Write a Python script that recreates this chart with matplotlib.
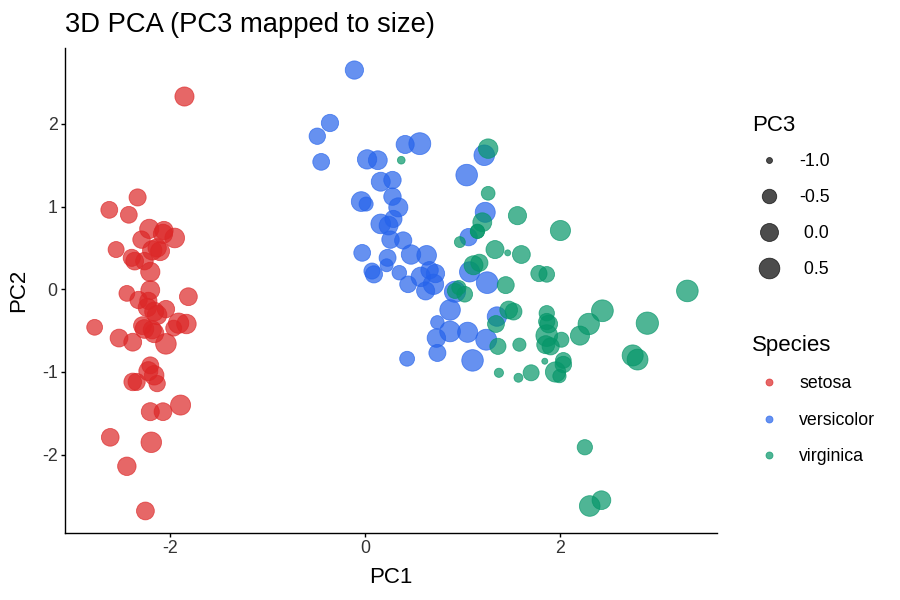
import numpy as np
import matplotlib
matplotlib.use("Agg")
import matplotlib.pyplot as plt

# punteggi PCA (iris, variabili standardizzate)
pc1 = [-2.26, -2.07, -2.36, -2.29, -2.38, -2.07, -2.44, -2.23, -2.33, -2.18,
       -2.16, -2.32, -2.21, -2.62, -2.19, -2.25, -2.20, -2.18, -1.89, -2.34,
       -1.91, -2.20, -2.77, -1.81, -2.22, -1.95, -2.04, -2.16, -2.13, -2.26,
       -2.13, -1.83, -2.61, -2.44, -2.10, -2.20, -2.04, -2.52, -2.42, -2.16,
       -2.28, -1.85, -2.55, -1.96, -2.13, -2.06, -2.38, -2.39, -2.22, -2.20,
       1.10, 0.73, 1.24, 0.41, 1.07, 0.39, 0.74, -0.49, 0.92, 0.01,
       -0.11, 0.44, 0.56, 0.72, -0.03, 0.87, 0.35, 0.16, 1.22, 0.16,
       0.74, 0.47, 1.23, 0.63, 0.70, 0.87, 1.25, 1.35, 0.66, -0.04,
       0.13, 0.02, 0.24, 1.06, 0.22, 0.43, 1.05, 1.04, 0.07, 0.28,
       0.28, 0.62, 0.34, -0.36, 0.29, 0.09, 0.23, 0.57, -0.45, 0.26,
       1.84, 1.15, 2.20, 1.44, 1.86, 2.74, 0.37, 2.29, 2.00, 2.25,
       1.36, 1.60, 1.88, 1.26, 1.46, 1.58, 1.47, 2.42, 3.30, 1.26,
       2.03, 0.97, 2.89, 1.33, 1.70, 1.95, 1.17, 1.02, 1.78, 1.86,
       2.43, 2.30, 1.86, 1.11, 1.20, 2.79, 1.57, 1.34, 0.92, 1.85,
       2.01, 1.90, 1.15, 2.03, 1.99, 1.86, 1.56, 1.52, 1.37, 0.96]
pc2 = [-0.48, 0.67, 0.34, 0.60, -0.64, -1.48, -0.05, -0.22, 1.11, 0.47,
       -1.04, -0.13, 0.73, 0.96, -1.85, -2.68, -1.48, -0.49, -1.40, -1.12,
       -0.41, -0.92, -0.46, -0.09, -0.14, 0.62, -0.24, -0.53, -0.31, 0.34,
       0.50, -0.42, -1.79, -2.14, 0.46, 0.21, -0.66, -0.59, 0.90, -0.27,
       -0.44, 2.33, 0.48, -0.47, -1.14, 0.71, -1.12, 0.38, -0.99, -0.01,
       -0.86, -0.59, -0.61, 1.75, 0.21, 0.59, -0.77, 1.85, -0.03, 1.03,
       2.65, 0.06, 1.76, 0.19, 0.44, -0.51, 0.20, 0.79, 1.62, 1.30,
       -0.40, 0.42, 0.93, 0.41, 0.06, -0.25, 0.08, -0.33, 0.23, 1.06,
       1.56, 1.57, 0.77, 0.63, 0.29, -0.84, -0.52, 1.38, 0.22, 1.32,
       1.12, -0.02, 0.99, 2.01, 0.85, 0.18, 0.38, 0.15, 1.54, 0.60,
       -0.87, 0.70, -0.56, 0.05, -0.29, -0.80, 1.56, -0.42, 0.71, -1.91,
       -0.69, 0.42, -0.42, 1.16, 0.44, -0.67, -0.25, -2.55, -0.02, 1.70,
       -0.91, 0.57, -0.41, 0.48, -1.01, -1.00, 0.32, -0.06, 0.19, -0.56,
       -0.26, -2.62, 0.18, 0.29, 0.81, -0.85, -1.07, -0.42, -0.02, -0.67,
       -0.61, -0.69, 0.70, -0.86, -1.05, -0.39, 0.89, -0.27, -1.01, 0.02]
pc3 = [0.13, 0.23, -0.04, -0.09, -0.02, -0.03, -0.33, 0.09, -0.14, 0.25,
       0.27, -0.09, 0.23, -0.18, 0.47, -0.03, 0.01, 0.04, 0.37, -0.13,
       0.42, -0.16, -0.33, -0.03, -0.12, 0.30, -0.09, 0.21, 0.27, -0.07,
       0.07, 0.27, -0.05, 0.08, 0.17, 0.22, 0.48, -0.02, -0.19, 0.18,
       -0.03, 0.20, -0.30, -0.31, -0.25, 0.06, -0.06, -0.14, 0.18, 0.15,
       0.68, 0.09, 0.55, 0.02, 0.40, -0.12, -0.15, -0.25, 0.59, -0.54,
       0.05, -0.20, 0.76, 0.07, -0.19, 0.50, -0.49, 0.30, 0.48, 0.17,
       -0.61, 0.26, 0.37, 0.29, 0.44, 0.47, 0.72, 0.26, -0.09, 0.32,
       0.15, 0.24, 0.15, -0.10, -0.66, -0.45, 0.39, 0.69, -0.29, -0.09,
       -0.09, 0.02, 0.20, -0.11, -0.13, -0.13, -0.16, 0.27, -0.19, -0.09,
       -1.00, -0.53, 0.20, -0.16, -0.39, 0.58, -0.98, 0.65, 0.39, -0.40,
       -0.28, -0.02, -0.03, -0.58, -1.00, -0.64, -0.04, 0.13, 0.70, 0.27,
       -0.23, -0.83, 0.85, 0.01, -0.30, 0.42, -0.13, -0.34, -0.27, 0.71,
       0.73, 0.49, -0.35, 0.18, 0.16, 0.54, -0.94, -0.18, -0.42, 0.01,
       -0.43, -0.13, -0.53, -0.34, -0.63, -0.26, 0.03, -0.18, -0.93, -0.53]
specie = ['setosa', 'versicolor', 'virginica']
n_per_specie = [50, 50, 50]
colori = ['#DC2626', '#2563EB', '#059669']
pc3_breaks = [-1.0, -0.5, 0.0, 0.5]
pc3_labels = ['-1.0', '-0.5', ' 0.0', ' 0.5']

pc1 = np.array(pc1)
pc2 = np.array(pc2)
pc3 = np.array(pc3)
species = np.repeat(specie, n_per_specie)

plt.rcParams['font.family'] = ['Liberation Sans', 'DejaVu Sans']
plt.rcParams['axes.unicode_minus'] = False

# scala delle dimensioni (diametro in px, area come in ggplot)
d_min, d_max = 6.0, 22.3
lo, hi = pc3.min(), pc3.max()
def diametro(v):
    t = np.clip((np.asarray(v) - lo) / (hi - lo), 0, 1)
    return d_min + (d_max - d_min) * np.sqrt(t)
def area(d):
    return (np.asarray(d) * 72 / 100) ** 2

fig = plt.figure(figsize=(9, 6), dpi=100)
ax = fig.add_axes([65/900, 67/600, 652/900, 485/600])

for sp, col in zip(specie, colori):
    m = species == sp
    ax.scatter(pc1[m], pc2[m], s=area(diametro(pc3[m])), color=col, alpha=0.7,
               edgecolors=col, linewidths=0.6, zorder=2)

# limiti con espansione del 5%
dx = (pc1.max() - pc1.min()) * 0.05
dy = (pc2.max() - pc2.min()) * 0.05
ax.set_xlim(pc1.min() - dx, pc1.max() + dx)
ax.set_ylim(pc2.min() - dy, pc2.max() + dy)
ax.set_xticks([-2, 0, 2])
ax.set_yticks([-2, -1, 0, 1, 2])

for side in ['top', 'right']:
    ax.spines[side].set_visible(False)
for side in ['left', 'bottom']:
    ax.spines[side].set_linewidth(1.0)
ax.tick_params(length=2.75, width=1.0, pad=2.5, labelsize=12.8, labelcolor='#333333')
ax.set_xlabel('PC1', fontsize=16, labelpad=7)
ax.set_ylabel('PC2', fontsize=16, labelpad=9)

fig.text(65/900, 1 - 32/600, '3D PCA (PC3 mapped to size)', fontsize=19.7, va='baseline', ha='left')

# legende disegnate a mano (coordinate in pixel della figura)
lax = fig.add_axes([0, 0, 1, 1], zorder=-1)
lax.set_xlim(0, 900)
lax.set_ylim(600, 0)
lax.axis('off')

lax.text(752, 131, 'PC3', fontsize=16, va='baseline', ha='left')
for i, (b, lab) in enumerate(zip(pc3_breaks, pc3_labels)):
    y = 160 + i * 36
    lax.scatter([769], [y], s=area(diametro(b)), color='black', alpha=0.7,
                edgecolors='black', linewidths=0.6)
    lax.text(799, y + 6.3, lab, fontsize=12.8, va='baseline', ha='left')

lax.text(752, 351, 'Species', fontsize=16, va='baseline', ha='left')
for i, (sp, col) in enumerate(zip(specie, colori)):
    y = 382 + i * 36.5
    lax.scatter([769], [y], s=area(7.0), color=col, alpha=0.7,
                edgecolors=col, linewidths=0.6)
    lax.text(799, y + 6.3, sp, fontsize=12.8, va='baseline', ha='left')

fig.savefig('out.png', dpi=100)
